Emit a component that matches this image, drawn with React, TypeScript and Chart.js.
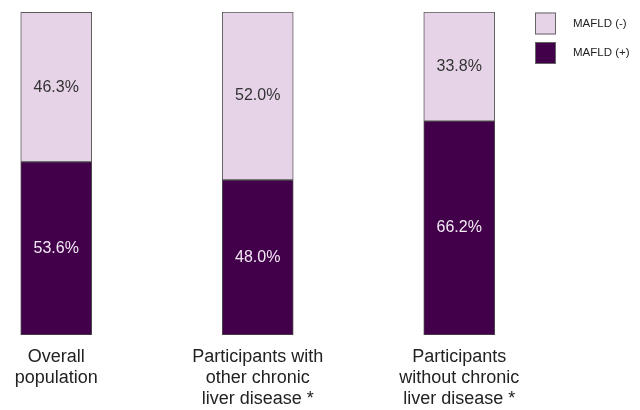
import React, { useEffect, useRef } from "react";
import { Chart, registerables } from "chart.js";

Chart.register(...registerables);

const categories: string[][] = [
  ["Overall", "population"],
  ["Participants with", "other chronic", "liver disease *"],
  ["Participants", "without chronic", "liver disease *"],
];
const seriesNames: string[] = ["MAFLD (+)", "MAFLD (-)"];
const mafldPositive: number[] = [53.6, 48.0, 66.2];
const mafldNegative: number[] = [46.3, 52.0, 33.8];
const seriesColors: string[] = ["#42004a", "#e6d3e8"];
const labelColors: string[] = ["#f3eaf4", "#333333"];

const FONT = "'Liberation Sans', Arial, Helvetica, sans-serif";

const valueLabels = {
  id: "valueLabels",
  afterDatasetsDraw(chart: any) {
    const ctx = chart.ctx;
    chart.data.datasets.forEach((ds: any, di: number) => {
      const meta = chart.getDatasetMeta(di);
      meta.data.forEach((el: any, i: number) => {
        const { x, y, base } = el.getProps(["x", "y", "base"], true);
        const v = ds.data[i].y;
        ctx.save();
        ctx.font = `16px ${FONT}`;
        ctx.fillStyle = labelColors[di];
        ctx.textAlign = "center";
        ctx.textBaseline = "middle";
        ctx.fillText(v.toFixed(1) + "%", x, (y + base) / 2);
        ctx.restore();
      });
    });
  },
};

const sideLegend = {
  id: "sideLegend",
  afterDraw(chart: any) {
    const ctx = chart.ctx;
    const order = [1, 0];
    const boxX = chart.width - 105;
    const textX = chart.width - 67;
    order.forEach((di, k) => {
      const top = 12.5 + k * 29.5;
      ctx.save();
      ctx.fillStyle = seriesColors[di];
      ctx.fillRect(boxX, top, 21, 22);
      ctx.strokeStyle = "#666666";
      ctx.lineWidth = 1;
      ctx.strokeRect(boxX + 0.5, top + 0.5, 20, 21);
      ctx.fillStyle = "#222222";
      ctx.font = `11.5px ${FONT}`;
      ctx.textAlign = "left";
      ctx.textBaseline = "middle";
      ctx.fillText(seriesNames[di], textX, top + 11);
      ctx.restore();
    });
  },
};

export default function App() {
  const ref = useRef<HTMLCanvasElement | null>(null);

  useEffect(() => {
    if (!ref.current) return;
    const chart = new Chart(ref.current, {
      type: "bar",
      data: {
        datasets: [
          {
            label: seriesNames[0],
            data: mafldPositive.map((v, i) => ({ x: i, y: v })),
            backgroundColor: seriesColors[0],
            borderColor: "#4a4a4a",
            borderWidth: 1,
            borderSkipped: false,
            barThickness: 71,
          },
          {
            label: seriesNames[1],
            data: mafldNegative.map((v, i) => ({ x: i, y: v })),
            backgroundColor: seriesColors[1],
            borderColor: "#5a5a5a",
            borderWidth: 1,
            borderSkipped: false,
            barThickness: 71,
          },
        ] as any,
      },
      options: {
        animation: false,
        responsive: true,
        maintainAspectRatio: false,
        layout: { padding: { top: 12, left: 0, right: 0, bottom: 0 } },
        plugins: {
          legend: { display: false },
          tooltip: { enabled: false },
        },
        scales: {
          x: {
            type: "linear",
            stacked: true,
            offset: false,
            min: -0.279,
            max: 2.897,
            grid: { display: false, drawTicks: false },
            border: { display: false },
            afterBuildTicks: (scale: any) => {
              scale.ticks = categories.map((_, i) => ({ value: i }));
            },
            afterFit: (scale: any) => {
              scale.height = 75;
            },
            ticks: {
              autoSkip: false,
              maxRotation: 0,
              minRotation: 0,
              padding: 11.5,
              color: "#222222",
              font: { family: FONT, size: 18, lineHeight: 21 / 18 },
              callback: (value: any) => categories[Math.round(Number(value))] ?? "",
            },
          },
          y: {
            display: false,
            stacked: true,
            min: 0,
            max: 100,
          },
        },
      } as any,
      plugins: [valueLabels, sideLegend],
    });
    return () => chart.destroy();
  }, []);

  return (
    <div style={{ position: "fixed", left: 0, top: 0, width: 640, height: 410, background: "#ffffff" }}>
      <canvas ref={ref} />
    </div>
  );
}
